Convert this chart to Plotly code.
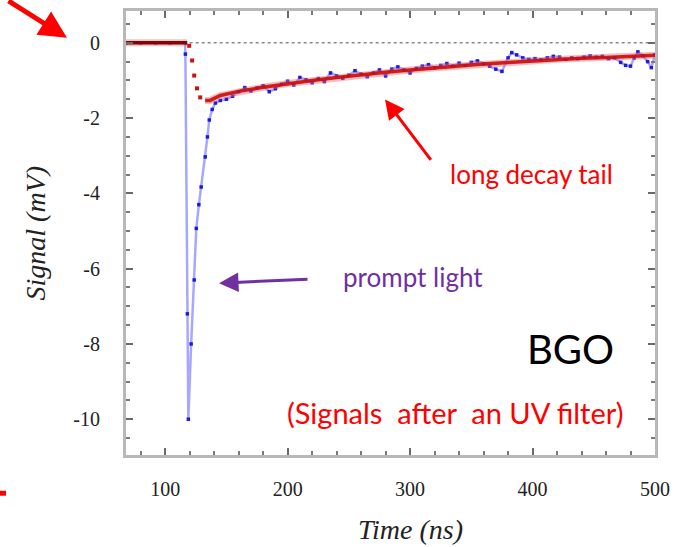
import plotly.graph_objects as go

# ---- data ----
red_t = [68, 118, 119.6, 122, 123.7, 126, 128.6, 132.6, 136.7, 145, 160, 180, 200, 220, 240,
         260, 280, 300, 320, 340, 360, 380, 400, 420, 440, 460, 480, 500]
red_v = [0, 0, -0.08, -0.47, -0.87, -1.21, -1.45, -1.53, -1.53, -1.40, -1.29, -1.18, -1.08, -1.00, -0.92,
         -0.84, -0.78, -0.72, -0.66, -0.61, -0.56, -0.52, -0.48, -0.44, -0.41, -0.39, -0.36, -0.33]

blue_t = [68, 80, 92, 104, 116.3, 116.5, 118.1, 118.9, 121.2, 123.7, 125.4, 127.5, 129.4, 132.7, 134.5,
          136, 138.4, 141,
          145, 150, 155, 160, 165, 170, 175, 180, 185, 190, 195, 200, 205, 210, 215, 220, 225, 230,
          235, 240, 245, 250, 255, 260, 265, 270, 275, 280, 285, 290, 295, 300, 305, 310, 315, 320,
          325, 330, 335, 340, 345, 350, 355, 360, 365, 370, 375, 380, 383, 387, 392, 397, 402, 407,
          412, 417, 422, 427, 432, 437, 442, 447, 452, 457, 462, 467, 472, 476, 480, 483, 486, 490,
          494, 497, 500]
blue_v = [0, 0, 0, 0, 0, -0.3, -7.2, -10.0, -8.0, -6.3, -4.93, -4.3, -3.83, -3.03, -2.5,
          -2.05, -1.77, -1.6,
          -1.53, -1.50, -1.42, -1.30, -1.19, -1.28, -1.20, -1.14, -1.30, -1.22, -1.10, -1.02, -1.12,
          -0.92, -0.98, -1.06, -0.95, -1.03, -0.80, -0.88, -0.94, -0.86, -0.74, -0.83, -0.90, -0.80,
          -0.72, -0.88, -0.70, -0.64, -0.72, -0.80, -0.68, -0.62, -0.58, -0.66, -0.60, -0.55, -0.62,
          -0.54, -0.60, -0.52, -0.48, -0.56, -0.62, -0.70, -0.76, -0.40, -0.26, -0.32, -0.40, -0.44,
          -0.42, -0.45, -0.40, -0.36, -0.38, -0.44, -0.40, -0.42, -0.38, -0.35, -0.38, -0.36, -0.42,
          -0.40, -0.52, -0.60, -0.62, -0.40, -0.24, -0.34, -0.50, -0.66, -0.32]

zero_t = [120, 500]
zero_v = [0, 0]

x_tick_vals = [100, 200, 300, 400, 500]
x_tick_text = ["100", "200", "300", "400", "500"]
y_tick_vals = [0, -2, -4, -6, -8, -10]
y_tick_text = ["0", "-2", "-4", "-6", "-8", "-10"]

# ---- geometry helpers (pixel -> paper) ----
W, H = 683, 547
L, R, T, B = 126, 28, 8, 92
PW, PH = W - L - R, H - T - B


def px(x):
    return (x - L) / PW


def py(y):
    return (H - B - y) / PH


fig = go.Figure()

# zero reference line
fig.add_trace(go.Scatter(x=zero_t, y=zero_v, mode="lines",
                         line=dict(color="#8a8a8a", width=1.6, dash="dot"),
                         hoverinfo="skip", showlegend=False))

# blue measured signal
fig.add_trace(go.Scatter(x=blue_t, y=blue_v, mode="lines+markers",
                         line=dict(color="rgba(95,95,255,0.55)", width=2.5),
                         marker=dict(color="rgba(10,10,220,0.9)", size=3.5, symbol="square"),
                         showlegend=False))

# red fit: halo, flat, drop dots, tail
fig.add_trace(go.Scatter(x=red_t[7:], y=red_v[7:], mode="lines",
                         line=dict(color="rgba(230,110,110,0.45)", width=7),
                         showlegend=False, hoverinfo="skip"))
fig.add_trace(go.Scatter(x=red_t[:2], y=red_v[:2], mode="lines",
                         line=dict(color="rgba(230,120,120,0.45)", width=7),
                         showlegend=False, hoverinfo="skip"))
fig.add_trace(go.Scatter(x=red_t[:2], y=red_v[:2], mode="lines",
                         line=dict(color="#7a0808", width=3.5), showlegend=False))
fig.add_trace(go.Scatter(x=red_t[2:7], y=red_v[2:7], mode="markers",
                         marker=dict(color="#d01010", size=4, symbol="square"), showlegend=False))
fig.add_trace(go.Scatter(x=red_t[7:], y=red_v[7:], mode="lines",
                         line=dict(color="rgba(205,10,10,0.9)", width=3.5), showlegend=False))

axis_common = dict(
    showgrid=False, zeroline=False, showline=True, linecolor="#b8b8b8", linewidth=3,
    mirror="allticks", ticks="inside", tickcolor="#6a6a6a", ticklen=7, tickwidth=1.5,
    tickfont=dict(family="Liberation Serif", size=20, color="#222222"),
)

fig.update_xaxes(range=[68, 500], tickmode="array", tickvals=x_tick_vals, ticktext=x_tick_text,
                 minor=dict(dtick=20, tick0=0, ticks="inside", ticklen=4, tickcolor="#7a7a7a"),
                 ticklabelstandoff=14, **axis_common)
fig.update_yaxes(range=[-10.95, 0.845], tickmode="array", tickvals=y_tick_vals, ticktext=y_tick_text,
                 minor=dict(dtick=0.5, tick0=0, ticks="inside", ticklen=4, tickcolor="#7a7a7a"),
                 ticklabelstandoff=19, **axis_common)

ann = []
# axis titles
ann.append(dict(text="<i>Time (ns)</i>", x=px(410), y=py(530), xref="paper", yref="paper",
                showarrow=False, xanchor="center", yanchor="middle",
                font=dict(family="Liberation Serif", size=28, color="#222222")))
ann.append(dict(text="<i>Signal (mV)</i>", x=px(35), y=py(232), xref="paper", yref="paper",
                showarrow=False, xanchor="center", yanchor="middle", textangle=-90,
                font=dict(family="Liberation Serif", size=28, color="#222222")))

# arrows
ann.append(dict(x=px(67), y=py(35), xref="paper", yref="paper", ax=-60, ay=-45,
                showarrow=True, arrowhead=2, arrowsize=1.1, arrowwidth=5, arrowcolor="#ff0000", text=""))
ann.append(dict(x=px(385), y=py(97), xref="paper", yref="paper", ax=47, ay=62,
                showarrow=True, arrowhead=2, arrowsize=1.3, arrowwidth=3, arrowcolor="#ff0000", text=""))
ann.append(dict(x=px(219), y=py(282), xref="paper", yref="paper", ax=90, ay=-4,
                showarrow=True, arrowhead=2, arrowsize=1.3, arrowwidth=3, arrowcolor="#7030a0", text=""))

# text labels
ann.append(dict(text="long decay tail", x=px(531), y=py(172), xref="paper", yref="paper",
                showarrow=False, xanchor="center", yanchor="middle",
                font=dict(family="Lato", size=26, color="#ff0000")))
ann.append(dict(text="prompt light", x=px(413), y=py(276), xref="paper", yref="paper",
                showarrow=False, xanchor="center", yanchor="middle",
                font=dict(family="Lato", size=26, color="#7030a0")))
ann.append(dict(text="BGO", x=px(570), y=py(348), xref="paper", yref="paper",
                showarrow=False, xanchor="center", yanchor="middle",
                font=dict(family="Lato", size=40, color="#000000")))
ann.append(dict(text="(Signals\u00a0 after\u00a0 an UV filter)", x=px(455), y=py(412), xref="paper",
                yref="paper", showarrow=False, xanchor="center", yanchor="middle",
                font=dict(family="Lato", size=29, color="#ff0000")))

fig.update_layout(
    width=W, height=H, autosize=False,
    margin=dict(l=L, r=R, t=T, b=B),
    paper_bgcolor="white", plot_bgcolor="white",
    annotations=ann,
    shapes=[dict(type="rect", xref="paper", yref="paper", x0=px(0), x1=px(6), y0=py(496), y1=py(491),
                 fillcolor="#ff0000", line=dict(width=0))],
)

fig.write_html("out.html")
